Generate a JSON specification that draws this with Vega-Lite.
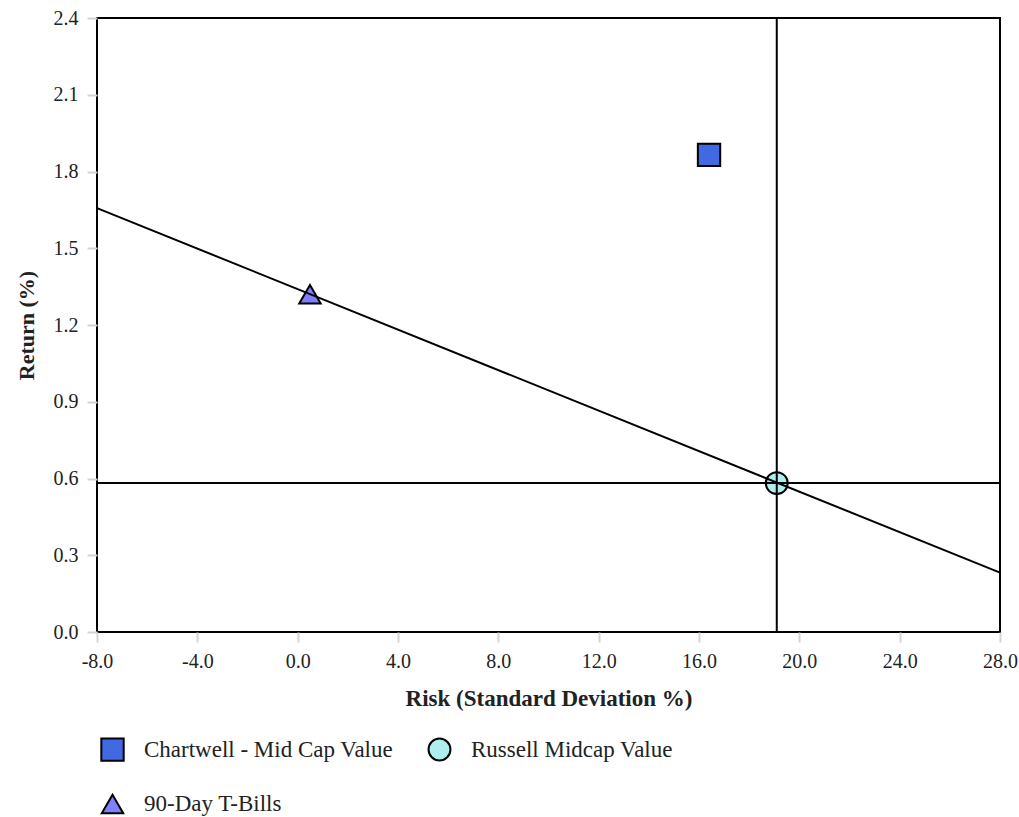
{
  "$schema": "https://vega.github.io/schema/vega-lite/v6.json",
  "width": 903,
  "height": 614,
  "autosize": {"type": "none"},
  "padding": {"left": 97, "top": 18, "right": 19, "bottom": 185},
  "background": "white",
  "config": {
    "font": "Liberation Serif",
    "view": {"stroke": "black", "strokeWidth": 2},
    "axis": {
      "grid": false,
      "domain": false,
      "labelFlush": false,
      "tickColor": "#d4d4d4",
      "tickSize": 10,
      "tickWidth": 2,
      "labelFont": "Liberation Serif",
      "labelFontSize": 20,
      "labelColor": "#222222",
      "titleFont": "Liberation Serif",
      "titleFontWeight": "bold",
      "titleColor": "#222222"
    }
  },
  "datasets": {
    "points": [
      {"series": "Chartwell - Mid Cap Value", "risk": 16.4, "ret": 1.865},
      {"series": "Russell Midcap Value", "risk": 19.1, "ret": 0.582},
      {"series": "90-Day T-Bills", "risk": 0.49, "ret": 1.32}
    ],
    "cml": [
      {"risk": -8, "ret": 1.657},
      {"risk": 28, "ret": 0.232}
    ],
    "cross": [
      {"risk": 19.1, "ret": 0.582}
    ]
  },
  "layer": [
    {
      "data": {"name": "points"},
      "mark": {"type": "point", "filled": true, "opacity": 1, "stroke": "black", "strokeWidth": 2},
      "encoding": {
        "x": {
          "field": "risk",
          "type": "quantitative",
          "title": "Risk (Standard Deviation %)",
          "scale": {"domain": [-8, 28], "nice": false, "zero": false},
          "axis": {
            "values": [-8, -4, 0, 4, 8, 12, 16, 20, 24, 28],
            "labelExpr": "(datum.value < 0 ? '-' : '') + format(abs(datum.value), '.1f')",
            "labelPadding": 9,
            "titleFontSize": 23,
            "titlePadding": 16
          }
        },
        "y": {
          "field": "ret",
          "type": "quantitative",
          "title": "Return (%)",
          "scale": {"domain": [0, 2.4], "nice": false},
          "axis": {
            "values": [0, 0.3, 0.6, 0.9, 1.2, 1.5, 1.8, 2.1, 2.4],
            "format": ".1f",
            "labelPadding": 9,
            "titleFontSize": 22,
            "titlePadding": 15
          }
        },
        "color": {
          "field": "series",
          "type": "nominal",
          "scale": {
            "domain": ["Chartwell - Mid Cap Value", "Russell Midcap Value", "90-Day T-Bills"],
            "range": ["#4169e1", "#afeeee", "#8080ff"]
          },
          "legend": {
            "title": null,
            "orient": "none",
            "legendX": 3,
            "legendY": 719,
            "direction": "horizontal",
            "columns": 2,
            "padding": 0,
            "columnPadding": 30,
            "rowPadding": 25,
            "labelFont": "Liberation Serif",
            "labelFontSize": 23,
            "labelLimit": 400,
            "labelColor": "#222222",
            "labelOffset": 19,
            "symbolSize": 620,
            "symbolStrokeColor": "black",
            "symbolStrokeWidth": 2
          }
        },
        "shape": {
          "field": "series",
          "type": "nominal",
          "scale": {
            "domain": ["Chartwell - Mid Cap Value", "Russell Midcap Value", "90-Day T-Bills"],
            "range": ["square", "circle", "triangle-up"]
          }
        },
        "size": {
          "field": "series",
          "type": "nominal",
          "legend": null,
          "scale": {
            "domain": ["Chartwell - Mid Cap Value", "Russell Midcap Value", "90-Day T-Bills"],
            "range": [500, 460, 720]
          }
        }
      }
    },
    {
      "data": {"name": "cross"},
      "mark": {"type": "rule", "color": "black", "strokeWidth": 2},
      "encoding": {"x": {"field": "risk", "type": "quantitative"}}
    },
    {
      "data": {"name": "cross"},
      "mark": {"type": "rule", "color": "black", "strokeWidth": 2},
      "encoding": {"y": {"field": "ret", "type": "quantitative"}}
    },
    {
      "data": {"name": "cml"},
      "mark": {"type": "line", "color": "black", "strokeWidth": 2},
      "encoding": {
        "x": {"field": "risk", "type": "quantitative"},
        "y": {"field": "ret", "type": "quantitative"}
      }
    }
  ]
}
